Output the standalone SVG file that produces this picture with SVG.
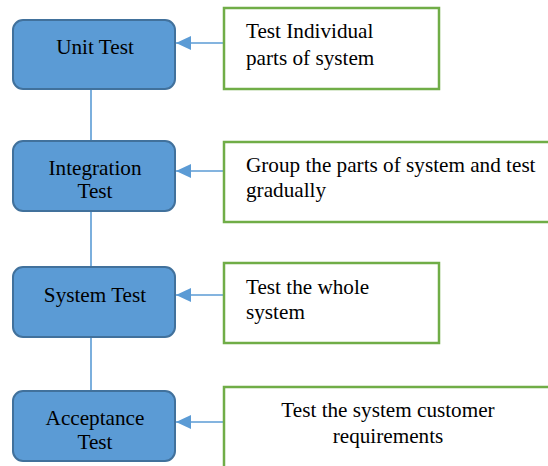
<svg xmlns="http://www.w3.org/2000/svg" width="548" height="466" viewBox="0 0 548 466">
<style>
.node rect{fill:#5B9BD5;stroke:#41719C;stroke-width:2}
.note rect{fill:#fff;stroke:#70AD47;stroke-width:2.5}
text{font-family:'Liberation Serif','Times New Roman','DejaVu Serif',serif;font-size:21.2px;fill:#000}
.c{text-anchor:middle}
.conn line{stroke:#5B9BD5;stroke-width:1.6}
</style>
<defs>
<marker id="ah" markerWidth="16" markerHeight="16" refX="15" refY="8" orient="auto" markerUnits="userSpaceOnUse">
<path d="M0,1 L15,8 L0,15 Z" fill="#5B9BD5"/>
</marker>
</defs>
<rect width="548" height="466" fill="#fff"/>
<g id="connectors" class="conn">
<line x1="91" y1="89" x2="91" y2="141"/>
<line x1="91" y1="211" x2="91" y2="267"/>
<line x1="91" y1="337" x2="91" y2="391"/>
<line x1="224" y1="43" x2="176" y2="43" marker-end="url(#ah)"/>
<line x1="224" y1="171" x2="176" y2="171" marker-end="url(#ah)"/>
<line x1="224" y1="295" x2="176" y2="295" marker-end="url(#ah)"/>
<line x1="224" y1="422" x2="176" y2="422" marker-end="url(#ah)"/>
</g>
<g id="unit" class="node"><rect x="13" y="20" width="162" height="69" rx="10"/><text class="c" x="95" y="54">Unit Test</text></g>
<g id="integration" class="node"><rect x="13" y="141" width="162" height="70" rx="10"/><text class="c" x="95" y="175">Integration</text><text class="c" x="95" y="198">Test</text></g>
<g id="system" class="node"><rect x="13" y="267" width="162" height="70" rx="10"/><text class="c" x="95" y="302">System Test</text></g>
<g id="acceptance" class="node"><rect x="13" y="391" width="162" height="70" rx="10"/><text class="c" x="95" y="425">Acceptance</text><text class="c" x="95" y="449">Test</text></g>
<g id="note1" class="note"><rect x="224" y="8" width="215" height="81"/><text x="246" y="38">Test Individual</text><text x="246" y="65">parts of system</text></g>
<g id="note2" class="note"><rect x="224" y="142" width="330" height="80"/><text x="246" y="172">Group the parts of system and test</text><text x="246" y="197">gradually</text></g>
<g id="note3" class="note"><rect x="224" y="263" width="215" height="80"/><text x="246" y="294">Test the whole</text><text x="246" y="319">system</text></g>
<g id="note4" class="note"><rect x="224" y="387" width="330" height="90"/><text class="c" x="388" y="417">Test the system customer</text><text class="c" x="388" y="443">requirements</text></g>
</svg>
